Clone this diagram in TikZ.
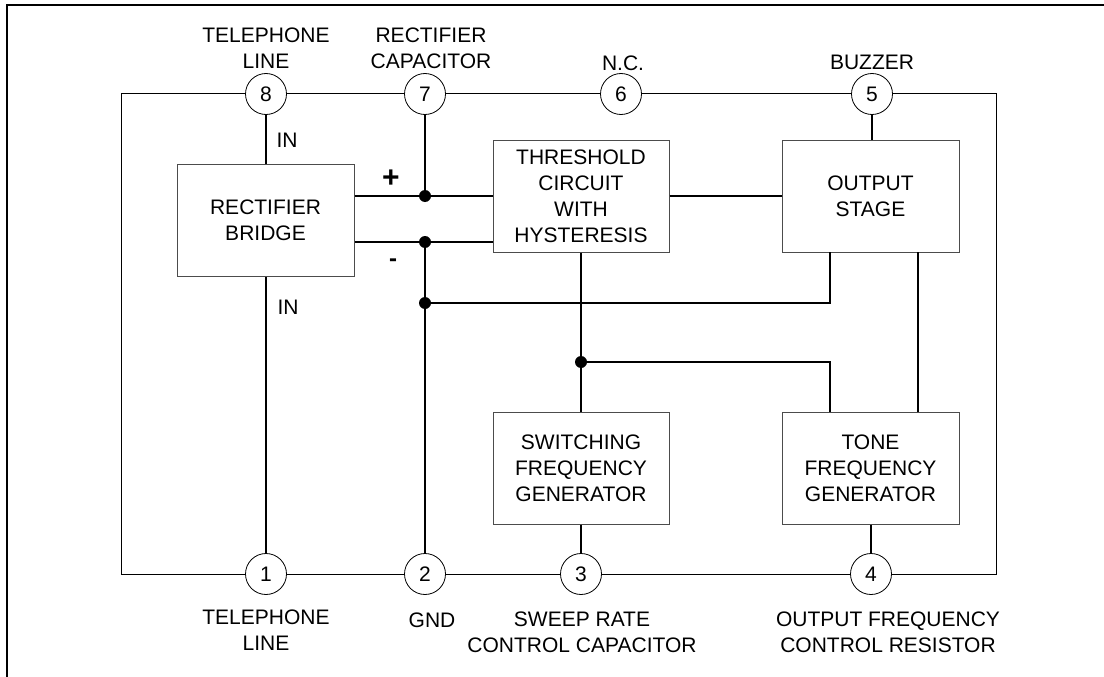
\documentclass[tikz,border=0pt]{standalone}
\usepackage{fontspec}
\setmainfont{Liberation Sans}
\usetikzlibrary{calc,positioning}

\begin{document}
\begin{tikzpicture}[x=1pt,y=-1pt,
  every node/.style={font=\fontsize{21}{26}\selectfont},
  block/.style={draw=black!70, line width=1pt, minimum width=176pt, minimum height=112pt,
    align=center, inner sep=0pt},
  pin/.style={draw, circle, line width=0.8pt, minimum size=41pt, inner sep=0pt},
  lbl/.style={align=center, inner sep=0pt},
  sign/.style={inner sep=0pt, font=\fontsize{24}{26}\selectfont\bfseries},
  wire/.style={line width=2pt},
  frame/.style={line width=1pt},
  dot/.style={fill=black}]
\useasboundingbox (0,0) rectangle (1104,677);
\draw[line width=2pt] (7,677) -- (7,5) -- (1104,5);

% blocks
\node[block,minimum width=177pt] (rect) at (265.5,220) {RECTIFIER\\BRIDGE};
\node[block] (thr) at (581,196) {THRESHOLD\\CIRCUIT\\WITH\\HYSTERESIS};
\node[block,minimum width=177pt] (out) at (870.5,196) {OUTPUT\\STAGE};
\node[block] (sw) at (581,468) {SWITCHING\\FREQUENCY\\GENERATOR};
\node[block,minimum width=177pt] (tone) at (870.5,468) {TONE\\FREQUENCY\\GENERATOR};

% pins
\foreach \n/\x in {8/266,7/425,6/621,5/872}
  \node[pin] (p\n) at (\x,94) {\n};
\foreach \n/\x in {1/266,2/425,3/581,4/871}
  \node[pin] (p\n) at (\x,574) {\n};

% pin labels
\node[lbl] (l8) at (266,48.5) {TELEPHONE\\LINE};
\node[lbl] (l7) at (431,48.5) {RECTIFIER\\CAPACITOR};
\node[lbl] (l6) at (623,63) {N.C.};
\node[lbl] (l5) at (872,62) {BUZZER};
\node[lbl] (l1) at (266,630.5) {TELEPHONE\\LINE};
\node[lbl] (l2) at (432,620) {GND};
\node[lbl] (l3) at (582,632) {SWEEP RATE\\CONTROL CAPACITOR};
\node[lbl] (l4) at (888,632) {OUTPUT FREQUENCY\\CONTROL RESISTOR};
\node[lbl] (in1) at (287,140) {IN};
\node[lbl] (in2) at (288,307) {IN};
\node[sign,font=\fontsize{30}{30}\selectfont\bfseries] (plus) at (391,179) {+};
\node[sign] (minus) at (393,263) {-};

% package outline
\coordinate (tl) at (121,94);
\coordinate (tr) at (996,94);
\coordinate (bl) at (121,574);
\coordinate (br) at (996,574);
\draw[frame] (p8.west) -- (tl) -- (bl) -- (p1.west);
\draw[frame] (p8.east) -- (p7.west) (p7.east) -- (p6.west) (p6.east) -- (p5.west);
\draw[frame] (p5.east) -- (tr) -- (br) -- (p4.east);
\draw[frame] (p4.west) -- (p3.east) (p3.west) -- (p2.east) (p2.west) -- (p1.east);

% junctions
\coordinate (j1) at (425,196);
\coordinate (j2) at (425,242);
\coordinate (j3) at (425,303);
\coordinate (j4) at (581,362);
\coordinate (outfb) at (830,252);
\coordinate (tonefb) at (830,412);
\coordinate (ot1) at (918,252);
\coordinate (ot2) at (918,412);

% wiring
\draw[wire] (p8.south) -- (p8.south |- rect.north);
\draw[wire] (p1.north) -- (p1.north |- rect.south);
\draw[wire] (rect.east |- j1) -- (thr.west |- j1);
\draw[wire] (rect.east |- j2) -- (thr.west |- j2);
\draw[wire] (p7.south) -- (j1);
\draw[wire] (j2) -- (p2.north);
\draw[wire] (j3) -| (outfb);
\draw[wire] (thr.east) -- (out.west);
\draw[wire] (thr.south) -- (sw.north);
\draw[wire] (j4) -| (tonefb);
\draw[wire] (ot1) -- (ot2);
\draw[wire] (p5.south) -- (p5.south |- out.north);
\draw[wire] (sw.south) -- (p3.north);
\draw[wire] (tone.south -| p4) -- (p4.north);
\foreach \j in {j1,j2,j3,j4}
  \fill[dot] (\j) circle (6pt);
\end{tikzpicture}
\end{document}
